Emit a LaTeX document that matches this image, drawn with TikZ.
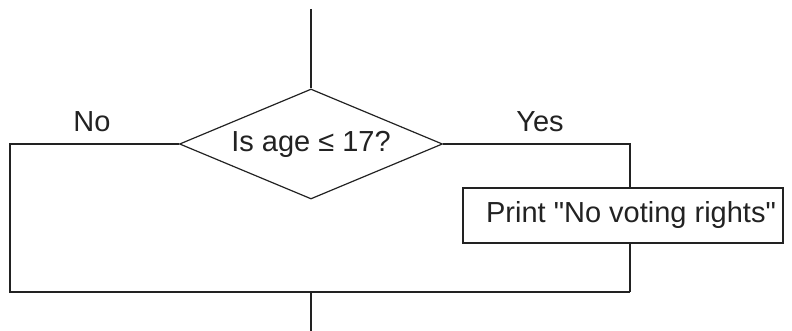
\documentclass[tikz,border=0pt]{standalone}
\usepackage{fontspec}
\setmainfont{Liberation Sans}[Ligatures=TeXOff]
\usetikzlibrary{shapes.geometric}
\definecolor{ink}{HTML}{222222}
\begin{document}
\begin{tikzpicture}[x=1pt,y=-1pt,
  txt/.style={font=\fontsize{29}{34}\selectfont,text=ink},
  line/.style={draw=ink,line width=1.2pt},
  decision/.style={line,txt,shape=diamond,inner sep=0pt,aspect=2.39,
    minimum width=263pt,minimum height=110pt},
  process/.style={line,txt,rectangle,inner sep=0pt,minimum width=320pt,
    minimum height=55pt}]
\useasboundingbox (0,0) rectangle (792,331);

% decision and action
\node[decision] (dec) at (311,144) {Is age ≤ 17?};
\node[process] (box) at (623,215.5) {\hspace*{16pt}Print "No voting rights"};

% branch labels
\node[txt] (no) at (92,122) {No};
\node[txt] (yes) at (540,122) {Yes};

% flow junctions
\coordinate (entry) at (311,9);
\coordinate (exit) at (311,331);
\coordinate (join) at (311,292);
\coordinate (lbot) at (10,292);
\coordinate (rbot) at (630,292);

% connectors
\draw[line] (entry) -- (dec.north);
\draw[line] (dec.west) -| (lbot) -- (rbot);
\draw[line] (dec.east) -| (rbot |- box.north);
\draw[line] (rbot |- box.south) -- (rbot);
\draw[line] (join) -- (exit);
\end{tikzpicture}
\end{document}
